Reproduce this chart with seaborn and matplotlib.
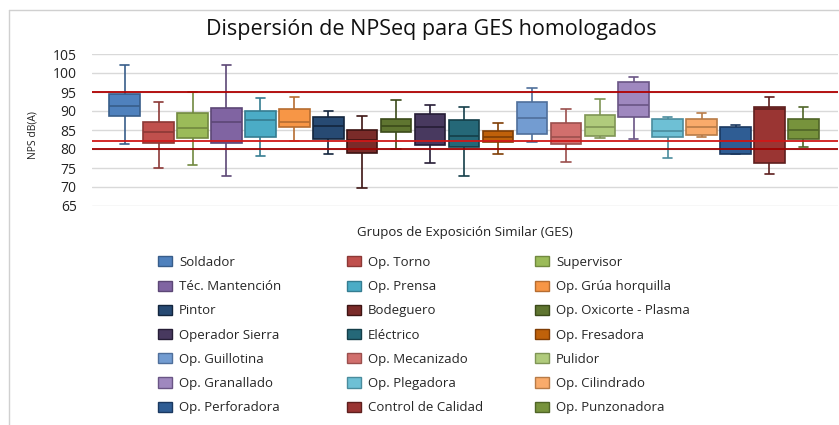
import matplotlib
matplotlib.use("Agg")
import matplotlib.pyplot as plt
from matplotlib.lines import Line2D
from matplotlib.patches import Patch
import numpy as np
import pandas as pd
import seaborn as sns

# Grupos de Exposición Similar, en el orden del gráfico
grupos = [
    "Soldador", "Op. Torno", "Supervisor", "Téc. Mantención", "Op. Prensa",
    "Op. Grúa horquilla", "Pintor", "Bodeguero", "Op. Oxicorte - Plasma",
    "Operador Sierra", "Eléctrico", "Op. Fresadora", "Op. Guillotina",
    "Op. Mecanizado", "Pulidor", "Op. Granallado", "Op. Plegadora",
    "Op. Cilindrado", "Op. Perforadora", "Control de Calidad", "Op. Punzonadora",
]

# estadísticos (dB(A))
bigote_inf = [81.3, 75.0, 75.9, 72.9, 78.1, 82.2, 78.6, 69.8, 79.9, 76.4, 72.9,
              78.8, 81.8, 76.6, 83.0, 82.6, 77.7, 83.1, 78.7, 73.5, 80.6]
q1 = [88.7, 81.6, 83.0, 81.6, 83.1, 85.7, 82.7, 78.9, 84.4, 81.0, 80.5,
      81.9, 83.9, 81.2, 83.5, 88.5, 83.2, 83.6, 78.7, 76.2, 82.7]
mediana = [91.2, 84.5, 85.6, 87.2, 87.5, 87.2, 86.0, 82.3, 86.0, 85.7, 83.5,
           83.2, 88.2, 83.2, 85.8, 91.7, 84.8, 85.8, 82.2, 90.6, 85.1]
q3 = [94.6, 87.0, 89.6, 90.8, 89.9, 90.4, 88.4, 84.9, 87.9, 89.3, 87.5,
      84.7, 92.3, 86.9, 89.0, 97.5, 87.9, 87.9, 85.9, 91.1, 88.0]
bigote_sup = [102.0, 92.4, 94.9, 102.0, 93.5, 93.6, 90.1, 88.7, 92.9, 91.7, 91.0,
              86.9, 96.1, 90.6, 93.2, 99.0, 88.4, 89.6, 86.2, 93.8, 91.0]

limites = [95, 82, 80]
yticks = list(range(65, 106, 5))

relleno = [
    "#4F81BD", "#C0504D", "#9BBB59", "#8064A2", "#4BACC6", "#F79646",
    "#274A73", "#7A2B29", "#5F7530", "#48395F", "#256878", "#BF610A",
    "#739CD1", "#D16F6D", "#B0CB7C", "#9F88BF", "#6EC0D5", "#F9AB6B",
    "#2F5D94", "#9A3533", "#77933C",
]
borde = [
    "#385D8A", "#8C3836", "#71893F", "#5C4776", "#357D91", "#B66D31",
    "#13253D", "#3D1413", "#3B4A1A", "#261D36", "#143E49", "#7F3D05",
    "#4F6F9B", "#9B4F4D", "#7F9555", "#6A5585", "#4A8C9D", "#B87B47",
    "#1A3860", "#5E1F1E", "#4F6527",
]

filas = []
for i, g in enumerate(grupos):
    for v in (bigote_inf[i], q1[i], mediana[i], q3[i], bigote_sup[i]):
        filas.append({"grupo": g, "nps": v})
df = pd.DataFrame(filas)

sns.set_style("white")
plt.rcParams["font.family"] = ["Open Sans", "DejaVu Sans"]

fig = plt.figure(figsize=(8.39, 4.25), dpi=100)
ax = fig.add_axes([92 / 839, 1 - 206 / 425, 746 / 839, 152 / 425])

sns.boxplot(
    data=df, x="grupo", y="nps", hue="grupo", order=grupos, hue_order=grupos,
    palette=relleno, whis=(0, 100), width=0.9, capwidths=0.28,
    showfliers=False, legend=False, linewidth=1.1, saturation=1, ax=ax,
)

# bordes y bigotes en el tono oscuro de cada caja
for p in ax.patches:
    xs = p.get_path().vertices[:, 0]
    k = int(round(xs.mean()))
    p.set_edgecolor(borde[k])
    p.set_linewidth(1.2)
for ln in ax.lines:
    xd = np.asarray(ln.get_xdata(), dtype=float)
    if xd.size == 0:
        continue
    k = int(round(xd.mean()))
    ln.set_color(borde[k])
    ln.set_linewidth(1.2)

colores_lim = ["#B00000", "#D01818", "#A00000"]
for v, c in zip(limites, colores_lim):
    ax.axhline(v, color=c, lw=1.3, zorder=6)

ax.set_ylim(65, 105)
ax.set_xlim(-0.963, 21.02)
ax.set_yticks(yticks)
ax.set_xticks([])
ax.yaxis.grid(True, color="#D9D9D9", lw=1)
ax.set_axisbelow(True)
for s in ax.spines.values():
    s.set_visible(False)
ax.tick_params(axis="y", length=0, pad=11, labelsize=10, labelcolor="#222222")

ax.set_ylabel("NPS dB(A)", fontsize=7.5, color="#222222")
ax.yaxis.set_label_coords(-0.072, 0.467)
ax.set_xlabel("Grupos de Exposición Similar (GES)", fontsize=9.5, color="#222222")
ax.xaxis.set_label_coords(0.5, -0.13)

fig.text(431.5 / 839, 1 - 35 / 425, "Dispersión de NPSeq para GES homologados",
         ha="center", va="baseline", fontsize=15.5, color="#111111")

# leyenda en tres columnas, llenadas por filas como en el original
col_x = [158, 347, 535]
for c in range(3):
    idx = list(range(c, len(grupos), 3))
    handles = [Patch(facecolor=relleno[i], edgecolor=borde[i], lw=1.0) for i in idx]
    fig.legend(
        handles, [grupos[i] for i in idx], loc="upper left",
        bbox_to_anchor=(col_x[c] / 839, 1 - 256 / 425), frameon=False,
        fontsize=9.5, handlelength=1.05, handleheight=0.8, handletextpad=0.55,
        labelspacing=0.85, borderpad=0, borderaxespad=0,
    )

# borde del área del gráfico
fig.add_artist(Line2D([9 / 839, 9 / 839], [0, 1 - 10 / 425], color="#D0D0D0", lw=1))
fig.add_artist(Line2D([9 / 839, 1], [1 - 10 / 425, 1 - 10 / 425], color="#D0D0D0", lw=1))

fig.savefig("out.png", dpi=100)
